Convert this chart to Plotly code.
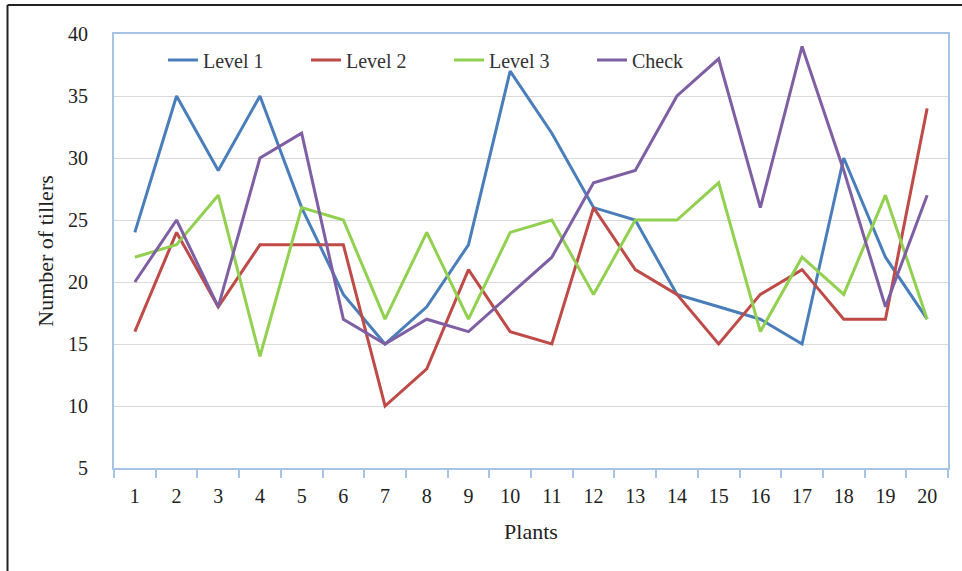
import plotly.graph_objects as go

plants = [str(i) for i in range(1, 21)]
level1 = [24, 35, 29, 35, 26, 19, 15, 18, 23, 37, 32, 26, 25, 19, 18, 17, 15, 30, 22, 17]
level2 = [16, 24, 18, 23, 23, 23, 10, 13, 21, 16, 15, 26, 21, 19, 15, 19, 21, 17, 17, 34]
level3 = [22, 23, 27, 14, 26, 25, 17, 24, 17, 24, 25, 19, 25, 25, 28, 16, 22, 19, 27, 17]
check = [20, 25, 18, 30, 32, 17, 15, 17, 16, 19, 22, 28, 29, 35, 38, 26, 39, 29, 18, 27]

series = [
    ("Level 1", level1, "#4A7EBB"),
    ("Level 2", level2, "#BE4B48"),
    ("Level 3", level3, "#92D050"),
    ("Check", check, "#7F5FA3"),
]

fig = go.Figure()
for name, vals, col in series:
    fig.add_trace(go.Scatter(x=plants, y=vals, name=name, mode="lines",
                             line=dict(color=col, width=3)))

W, H = 962, 571
L, R, T, B = 114, 14, 34, 103
pw, ph = W - L - R, H - T - B

def px(x):
    return (x - L) / pw

def py(y):
    return 1 - (y - T) / ph

axis_col = "#A7C4E5"
fig.update_layout(
    width=W, height=H,
    margin=dict(l=L, r=R, t=T, b=B),
    paper_bgcolor="white", plot_bgcolor="white",
    font=dict(family="Liberation Serif", size=20, color="#222222"),
    legend=dict(orientation="h", x=px(163), y=py(60), xanchor="left", yanchor="middle",
                bgcolor="rgba(0,0,0,0)", font=dict(size=20, color="#333333"),
                entrywidth=98, entrywidthmode="pixels", tracegroupgap=0),
    xaxis=dict(type="category", tickson="boundaries", ticks="outside", ticklen=8,
               range=[-0.5, 19.5],
               tickcolor=axis_col, tickwidth=1.5, showline=True, linecolor=axis_col,
               linewidth=2, mirror=True, showgrid=False,
               title=dict(text="Plants", font=dict(size=22), standoff=18),
               ticklabelstandoff=9),
    yaxis=dict(range=[5, 40], dtick=5, showline=True, linecolor=axis_col, linewidth=2,
               mirror=True, gridcolor="#D9D9D9", gridwidth=1, ticks="",
               title=dict(text="Number of tillers", font=dict(size=22), standoff=8),
               ticklabelstandoff=20, zeroline=False),
    shapes=[
        dict(type="line", xref="paper", yref="paper", x0=px(7.5), x1=px(7.5),
             y0=py(5), y1=py(575), line=dict(color="#222222", width=2)),
        dict(type="line", xref="paper", yref="paper", x0=px(7.5), x1=px(965),
             y0=py(5), y1=py(5), line=dict(color="#222222", width=2)),
    ],
)

fig.write_html("out.html", config={"displayModeBar": False},
               post_script="document.body.style.margin='0px';")
